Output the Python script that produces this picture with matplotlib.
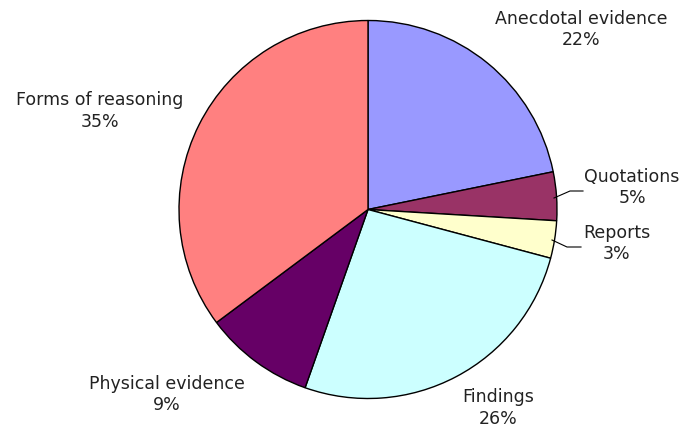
import matplotlib
matplotlib.use('Agg')
import matplotlib.pyplot as plt

# Datos del grafico
categorias = ['Anecdotal evidence', 'Quotations', 'Reports', 'Findings',
              'Physical evidence', 'Forms of reasoning']
tamanos = [21.8, 4.15, 3.2, 26.25, 9.4, 35.2]      # proporciones
etiquetas_pct = [22, 5, 3, 26, 9, 35]               # porcentajes impresos
colores = ['#9999FF', '#993366', '#FFFFCC', '#CCFFFF', '#660066', '#FF8080']

W, H = 681, 429
fig = plt.figure(figsize=(W / 100, H / 100), dpi=100)
ax = fig.add_axes([0, 0, 1, 1])

cx, cy, r = 368, H - 209.5, 189                   # centro y radio en pixeles
ax.pie(tamanos, colors=colores, startangle=90, counterclock=False,
       center=(cx, cy), radius=r, frame=True,
       wedgeprops=dict(edgecolor='black', linewidth=1.0))
ax.set_xlim(0, W)
ax.set_ylim(0, H)
ax.set_aspect('equal')
ax.axis('off')

# Centro de cada bloque de texto (pixeles de la imagen, y hacia abajo)
pos_etiquetas = [(581, 29.5), (632, 187.5), (617, 243.5), (498, 408),
                 (167, 394.5), (100, 111)]

for nombre, p, (x, y) in zip(categorias, etiquetas_pct, pos_etiquetas):
    ax.text(x, H - y, nombre + '\n' + str(p) + '%', ha='center', va='center',
            fontsize=12.5, linespacing=1.25, color='#222222')

# Lineas guia
ax.plot([554, 570, 583], [H - 198, H - 191, H - 191], color='black', lw=0.8)
ax.plot([552, 567, 581], [H - 240, H - 247, H - 247], color='black', lw=0.8)

fig.savefig('out.png', dpi=100)
